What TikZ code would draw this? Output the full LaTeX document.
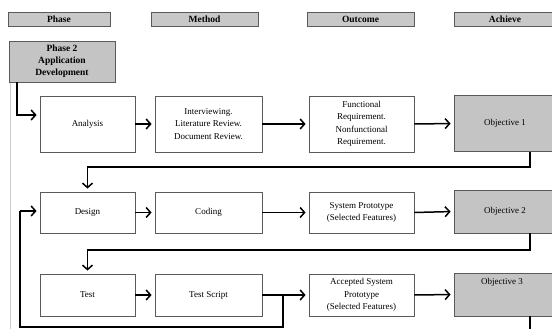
\documentclass[tikz,border=0pt]{standalone}
\usepackage{fontspec}
\setmainfont{Liberation Serif}
\usetikzlibrary{arrows.meta}
\definecolor{boxgray}{HTML}{C4C4C4}
\definecolor{hdrgray}{HTML}{C8C8C8}
\definecolor{edgegray}{HTML}{5A5A5A}
\tikzset{
  hdr/.style={draw=edgegray, line width=0.8pt, fill=hdrgray, font=\fontsize{9.5}{10}\selectfont\bfseries, inner sep=0pt, minimum height=14pt},
  wbox/.style={draw=edgegray, line width=0.8pt, fill=white, font=\fontsize{9}{12.5}\selectfont, align=center, inner sep=0pt},
  gbox/.style={wbox, fill=boxgray},
  flow/.style={line width=1.5pt, -{Straight Barb[length=4.5pt,width=10pt,line width=1.5pt]}, shorten >=3pt},
  link/.style={line width=1.5pt}
}
\begin{document}
\begin{tikzpicture}[x=1pt,y=-1pt]
\useasboundingbox (0,0) rectangle (552,329);
% faint page edge
\draw[gray!40, line width=0.8pt] (10,82) -- (10,329);
% headers
\node[hdr, minimum width=102pt] (hphase) at (59,19) {Phase};
\node[hdr, minimum width=107pt] (hmethod) at (204.5,19) {Method};
\node[hdr, minimum width=107pt] (houtcome) at (360.5,19) {Outcome};
\node[hdr, minimum width=102pt] (hachieve) at (505,19) {Achieve};
% phase 2
\node[gbox, minimum width=106pt, minimum height=41pt, font=\fontsize{9.5}{12}\selectfont\bfseries] (phase2) at (62,61.5) {Phase 2\\Application\\Development};
% row 1
\node[wbox, minimum width=95pt, minimum height=56pt] (analysis) at (87.5,124) {Analysis};
\node[wbox, minimum width=107pt, minimum height=56pt] (m1) at (208.5,124) {Interviewing.\\Literature Review.\\Document Review.};
\node[wbox, minimum width=105pt, minimum height=56pt, font=\fontsize{9}{12.5}\selectfont] (o1) at (361.5,124) {Functional\\Requirement.\\Nonfunctional\\Requirement.};
\node[gbox, minimum width=102pt, minimum height=56pt] (obj1) at (505,123.5) {Objective 1};
% row 2
\node[wbox, minimum width=95pt, minimum height=41pt] (design) at (87.5,212.5) {Design};
\node[wbox, minimum width=107pt, minimum height=41pt] (coding) at (208.5,212.5) {Coding};
\node[wbox, minimum width=105pt, minimum height=41pt] (o2) at (361.5,212.5) {System Prototype\\(Selected Features)};
\node[gbox, minimum width=102pt, minimum height=43pt] (obj2) at (505,211.5) {Objective 2};
% row 3
\node[wbox, minimum width=95pt, minimum height=42pt] (test) at (87.5,295) {Test};
\node[wbox, minimum width=107pt, minimum height=42pt] (tscript) at (208.5,295) {Test Script};
\node[wbox, minimum width=105pt, minimum height=42pt] (o3) at (361.5,295) {Accepted System\\Prototype\\(Selected Features)};
\node[gbox, minimum width=102pt, minimum height=43pt] (obj3) at (505,294.5) {};
\node[font=\fontsize{9}{10}\selectfont, anchor=north, inner sep=0pt] (obj3t) at (502,278.5) {Objective 3};
% coordinates
\coordinate (c0) at (17,115);
\coordinate (c1a) at (530,167);
\coordinate (c1b) at (87.5,167);
\coordinate (c2a) at (530,250);
\coordinate (c2b) at (87.5,250);
\coordinate (fb) at (283,295);
\coordinate (fbb) at (283,327);
\coordinate (fbl) at (20,327);
\coordinate (fbd) at (20,211);
\coordinate (end3) at (530,329);
% flows
\draw[flow] (phase2.south west -| c0) -- (c0) -- (analysis.west |- c0);
\draw[flow] (analysis.east) -- (m1.west);
\draw[flow] (m1.east) -- (o1.west);
\draw[flow] (o1.east) -- (obj1.west);
\draw[flow] (obj1.south -| c1a) -- (c1a) -- (c1b) -- (design.north);
\draw[flow] (design.east) -- (coding.west);
\draw[flow] (coding.east) -- (o2.west);
\draw[flow] (o2.east) -- (obj2.west);
\draw[flow] (obj2.south -| c2a) -- (c2a) -- (c2b) -- (test.north);
\draw[flow] (test.east) -- (tscript.west);
\draw[flow] (tscript.east) -- (o3.west);
\draw[flow] (o3.east) -- (obj3.west);
\draw[link] (fb) -- (fbb) -- (fbl) -- (fbd);
\draw[flow] (fbd) -- (design.west |- fbd);
\draw[link] (obj3.south -| end3) -- (end3);
\end{tikzpicture}
\end{document}
